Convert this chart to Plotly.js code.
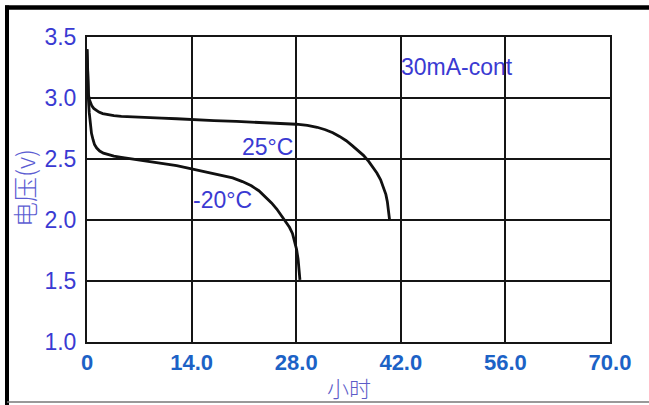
<!DOCTYPE html>
<html>
<head>
<meta charset="utf-8">
<script src="https://cdn.plot.ly/plotly-3.0.1.min.js"></script>
<style>html,body{margin:0;padding:0;background:#fff;}#chart{width:649px;height:405px;}</style>
</head>
<body>
<div id="chart"></div>
<script>
// Time (hours) and voltage (V)
const t25 = [0, 0.05, 0.12, 0.2, 0.3, 0.45, 0.65, 0.9, 1.2, 1.6, 2.1, 2.8, 3.6, 4.6, 6, 8, 10, 12, 14, 17, 20, 23, 26, 28, 29.5, 30.8, 31.9, 32.9, 33.8, 34.7, 35.5, 36.3, 37, 37.7, 38.3, 38.8, 39.3, 39.7, 40, 40.2, 40.35, 40.45, 40.5];
const v25 = [3.40, 3.25, 3.10, 3.03, 2.99, 2.96, 2.935, 2.915, 2.90, 2.885, 2.872, 2.862, 2.855, 2.85, 2.845, 2.84, 2.835, 2.83, 2.822, 2.815, 2.808, 2.80, 2.792, 2.785, 2.775, 2.76, 2.74, 2.715, 2.685, 2.65, 2.61, 2.57, 2.53, 2.48, 2.43, 2.385, 2.33, 2.27, 2.21, 2.15, 2.09, 2.04, 2.00];
const tM20 = [0, 0.05, 0.1, 0.2, 0.3, 0.45, 0.6, 0.8, 1.0, 1.3, 1.7, 2.2, 2.8, 3.6, 4.6, 6, 8, 10, 12, 14, 16, 18, 19.5, 20.8, 22, 23, 23.9, 24.7, 25.4, 26, 26.6, 27.1, 27.5, 27.8, 28.05, 28.25, 28.4, 28.5];
const vM20 = [3.40, 3.25, 3.10, 2.98, 2.88, 2.78, 2.71, 2.66, 2.62, 2.59, 2.565, 2.548, 2.535, 2.523, 2.513, 2.50, 2.485, 2.465, 2.445, 2.42, 2.395, 2.37, 2.345, 2.315, 2.28, 2.24, 2.19, 2.14, 2.09, 2.04, 1.98, 1.94, 1.89, 1.83, 1.76, 1.68, 1.60, 1.51];

const xTickVals = [0, 14, 28, 42, 56, 70];
const xTickText = ["0", "14.0", "28.0", "42.0", "56.0", "70.0"];
const yTickVals = [1.0, 1.5, 2.0, 2.5, 3.0, 3.5];
const yTickText = ["1.0", "1.5", "2.0", "2.5", "3.0", "3.5"];

const seriesLabels = ["25°C", "-20°C"];
const noteText = "30mA-cont";
const xTitle = "小时";
const yTitle = "电压(v)";

const lineStyle = {color: '#111', width: 2.8};
const traces = [
  {x: t25, y: v25, mode: 'lines', line: lineStyle, name: seriesLabels[0], cliponaxis: false},
  {x: tM20, y: vM20, mode: 'lines', line: lineStyle, name: seriesLabels[1], cliponaxis: false}
];

const blue = '#3a3ad2';
const sans = 'Liberation Sans, Arial, sans-serif';
const layout = {
  width: 649, height: 405,
  margin: {l: 87, r: 39, t: 37, b: 63},
  paper_bgcolor: '#fff', plot_bgcolor: '#fff',
  showlegend: false,
  xaxis: {
    range: [0, 70], tickvals: xTickVals, ticktext: xTickText,
    showgrid: true, gridcolor: '#151515', gridwidth: 2,
    showline: true, linecolor: '#151515', linewidth: 2, mirror: true,
    zeroline: false, ticks: '',
    tickfont: {family: sans, size: 22, color: '#1c62c6', weight: 'bold'}
  },
  yaxis: {
    range: [1.0, 3.5], tickvals: yTickVals, ticktext: yTickText,
    showgrid: true, gridcolor: '#151515', gridwidth: 2,
    showline: true, linecolor: '#151515', linewidth: 2, mirror: true,
    zeroline: false, ticks: '', ticklabelstandoff: 4,
    tickfont: {family: sans, size: 23, color: blue}
  },
  annotations: [
    {x: 49.5, y: 3.254, xref: 'x', yref: 'y', text: noteText, showarrow: false,
     font: {family: sans, size: 23, color: blue}},
    {x: 24.1, y: 2.598, xref: 'x', yref: 'y', text: seriesLabels[0], showarrow: false,
     font: {family: sans, size: 23, color: blue}},
    {x: 18.1, y: 2.164, xref: 'x', yref: 'y', text: seriesLabels[1], showarrow: false,
     font: {family: sans, size: 23, color: blue}},
    {x: (24 - 87) / 523, y: (342 - 188) / 305, xref: 'paper', yref: 'paper', text: yTitle, textangle: -90,
     showarrow: false, xanchor: 'center', yanchor: 'middle',
     font: {family: 'Noto Sans CJK SC, sans-serif', size: 25, color: '#5c5cd2', weight: 300}},
    {x: (349 - 87) / 523, y: (342 - 387) / 305, xref: 'paper', yref: 'paper', text: xTitle,
     showarrow: false, xanchor: 'center', yanchor: 'middle',
     font: {family: 'Noto Sans CJK SC, sans-serif', size: 22, color: '#5c5cc8', weight: 300}}
  ],
  shapes: [
    {type: 'line', xref: 'paper', yref: 'paper', x0: (7 - 87) / 523, x1: (7 - 87) / 523, y0: (342 - 5.5) / 305, y1: (342 - 405) / 305,
     line: {color: '#000', width: 4}},
    {type: 'line', xref: 'paper', yref: 'paper', x0: (5 - 87) / 523, x1: (649 - 87) / 523, y0: (342 - 7.5) / 305, y1: (342 - 7.5) / 305,
     line: {color: '#000', width: 4.5}},
    {type: 'line', xref: 'paper', yref: 'paper', x0: (7 - 87) / 523, x1: (649 - 87) / 523, y0: (342 - 402) / 305, y1: (342 - 402) / 305,
     line: {color: '#777', width: 1.5}}
  ]
};

Plotly.newPlot('chart', traces, layout, {staticPlot: true, displayModeBar: false});
</script>
</body>
</html>
